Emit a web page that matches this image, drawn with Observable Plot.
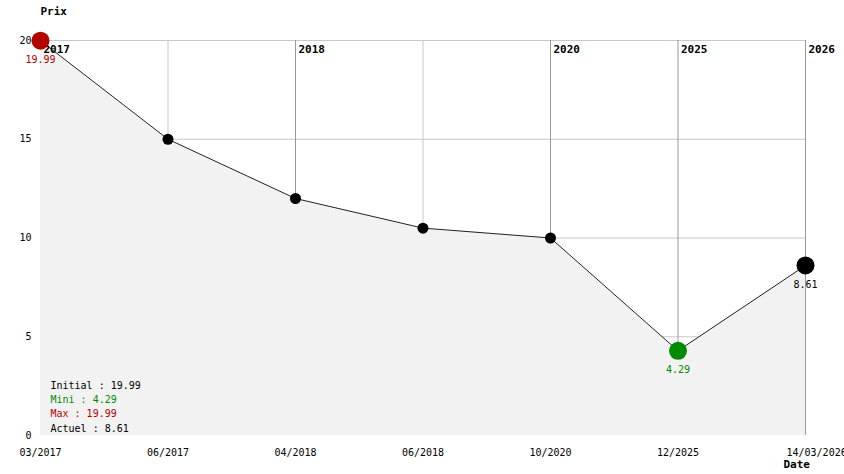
<!DOCTYPE html>
<html>
<head>
<meta charset="utf-8">
<script src="https://cdn.jsdelivr.net/npm/d3@7"></script>
<script src="https://cdn.jsdelivr.net/npm/@observablehq/plot@0.6"></script>
<style>
  html, body { margin: 0; padding: 0; background: #fff; }
  svg { display: block; }
</style>
</head>
<body>
<div id="chart"></div>
<script>
const dates = ["03/2017", "06/2017", "04/2018", "06/2018", "10/2020", "12/2025", "14/03/2026"];
const prices = [19.99, 15, 12, 10.5, 10, 4.29, 8.61];
const yearLabels = ["2017", "", "2018", "", "2020", "2025", "2026"];
const yTicks = [0, 5, 10, 15, 20];

const RED = "#b30000", GREEN = "#008a00";
const data = dates.map((d, i) => ({date: d, price: prices[i], year: yearLabels[i]}));
const iMin = d3.minIndex(prices), iMax = d3.maxIndex(prices), iLast = prices.length - 1;
const big = [
  {...data[iMax], color: RED},
  {...data[iMin], color: GREEN},
  {...data[iLast], color: "#000"}
];
const small = data.filter((d, i) => i !== iMin && i !== iMax && i !== iLast);
const legend = [
  {t: `Initial : ${prices[0]}`, c: "#000"},
  {t: `Mini : ${prices[iMin]}`, c: GREEN},
  {t: `Max : ${prices[iMax]}`, c: RED},
  {t: `Actuel : ${prices[iLast]}`, c: "#000"}
];
const legendOffsets = [-50, -36, -22, -7];
const mono = "DejaVu Sans Mono, Liberation Mono, monospace";

const chart = Plot.plot({
  width: 844, height: 474,
  marginLeft: 40, marginRight: 39, marginTop: 40, marginBottom: 39,
  style: {fontFamily: mono, fontSize: "10px", color: "#000", background: "#fff"},
  x: {type: "point", domain: dates, padding: 0, inset: 0, round: false},
  y: {domain: [0, 20], inset: 0},
  marks: [
    Plot.ruleY(yTicks.filter(v => v > 0), {stroke: "#c8c8c8", strokeWidth: 1}),
    Plot.ruleX(data.filter(d => !d.year), {x: "date", y1: 0, y2: 20, stroke: "#c8c8c8"}),
    Plot.ruleX(data.filter(d => d.year), {x: "date", y1: 0, y2: 20, stroke: "#999"}),
    Plot.areaY(data, {x: "date", y: "price", fill: "#f2f2f2", curve: "linear"}),
    Plot.lineY(data, {x: "date", y: "price", stroke: "#222", strokeWidth: 1}),
    Plot.text(data.filter(d => d.year), {x: "date", frameAnchor: "top", text: "year", textAnchor: "start", lineAnchor: "top", dx: 3, dy: 5, fontWeight: "bold", fontSize: 11}),
    Plot.dot(small, {x: "date", y: "price", r: 5.5, fill: "#000", stroke: "none"}),
    Plot.dot(big, {x: "date", y: "price", r: 9, fill: d => d.color, stroke: "none"}),
    Plot.text(big, {x: "date", y: "price", text: d => String(d.price), fill: d => d.color, dy: 19}),
    Plot.axisY({ticks: yTicks, tickSize: 0, tickPadding: 9, label: null, fontSize: 10}),
    Plot.axisX({ticks: dates.slice(0, -1), tickSize: 0, tickPadding: 13, label: null, fontSize: 10}),
    Plot.text(dates.slice(-1), {x: d => d, frameAnchor: "bottom", text: d => d, textAnchor: "start", lineAnchor: "middle", dx: -19, dy: 17}),
    ...legend.map((d, i) => Plot.text([d], {frameAnchor: "bottom-left", text: "t", fill: "c", textAnchor: "start", lineAnchor: "middle", dx: 10, dy: legendOffsets[i]})),
    Plot.text(["Prix"], {frameAnchor: "top-left", text: d => d, textAnchor: "start", lineAnchor: "top", dy: -33, fontWeight: "bold", fontSize: 11}),
    Plot.text(["Date"], {frameAnchor: "bottom-right", text: d => d, textAnchor: "start", lineAnchor: "bottom", dx: -22, dy: 32, fontWeight: "bold", fontSize: 11})
  ]
});
document.getElementById("chart").append(chart);
</script>
</body>
</html>
